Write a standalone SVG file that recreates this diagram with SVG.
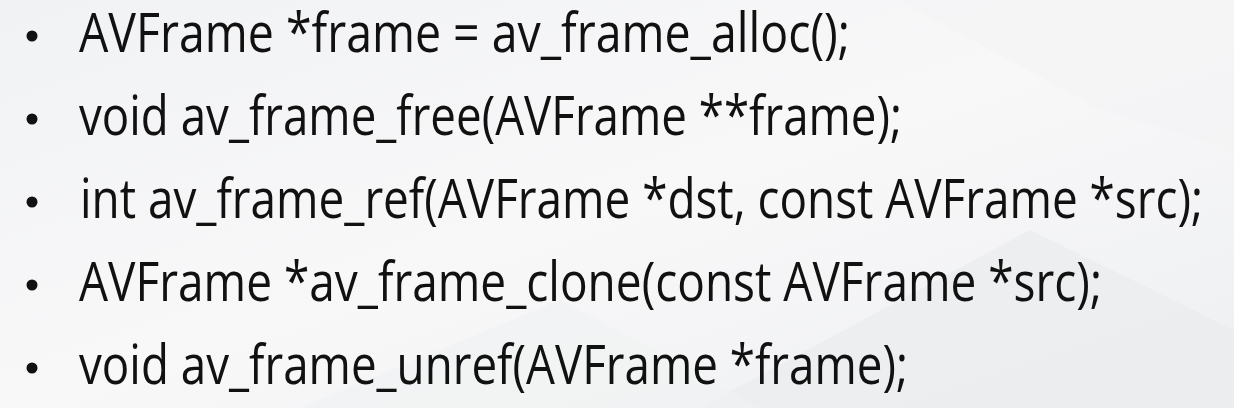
<svg xmlns="http://www.w3.org/2000/svg" width="1234" height="408" viewBox="0 0 1234 408">
<defs>
<linearGradient id="bg" x1="0" y1="0" x2="1" y2="1">
<stop offset="0" stop-color="#f1f2f4"/>
<stop offset="0.5" stop-color="#f8f8f9"/>
<stop offset="1" stop-color="#eeeff1"/>
</linearGradient>
<style>
.t{font-family:"Open Sans","Noto Sans","Liberation Sans",sans-serif;font-size:54px;fill:#111111;}
.b{fill:#111111;}
</style>
</defs>
<rect width="1234" height="408" fill="url(#bg)"/>
<polygon points="700,408 1030,230 1234,330 1234,408" fill="#ebecee" opacity="0.8"/>
<polygon points="900,0 1234,0 1234,150 1100,110" fill="#f4f4f5" opacity="0.7"/>
<polygon points="300,408 560,300 760,408" fill="#f0f1f2" opacity="0.6"/>
<g id="item1">
<circle class="b" cx="32" cy="36" r="5.5"/>
<text class="t" x="79" y="52" textLength="771" lengthAdjust="spacingAndGlyphs">AVFrame *frame = av_frame_alloc();</text>
</g>
<g id="item2">
<circle class="b" cx="32" cy="119" r="5.5"/>
<text class="t" x="79" y="135" textLength="823" lengthAdjust="spacingAndGlyphs">void av_frame_free(AVFrame **frame);</text>
</g>
<g id="item3">
<circle class="b" cx="32" cy="202" r="5.5"/>
<text class="t" x="80" y="218" textLength="1123" lengthAdjust="spacingAndGlyphs">int av_frame_ref(AVFrame *dst, const AVFrame *src);</text>
</g>
<g id="item4">
<circle class="b" cx="32" cy="285" r="5.5"/>
<text class="t" x="79" y="301" textLength="1023" lengthAdjust="spacingAndGlyphs">AVFrame *av_frame_clone(const AVFrame *src);</text>
</g>
<g id="item5">
<circle class="b" cx="32" cy="368" r="5.5"/>
<text class="t" x="79" y="384" textLength="829" lengthAdjust="spacingAndGlyphs">void av_frame_unref(AVFrame *frame);</text>
</g>
</svg>
